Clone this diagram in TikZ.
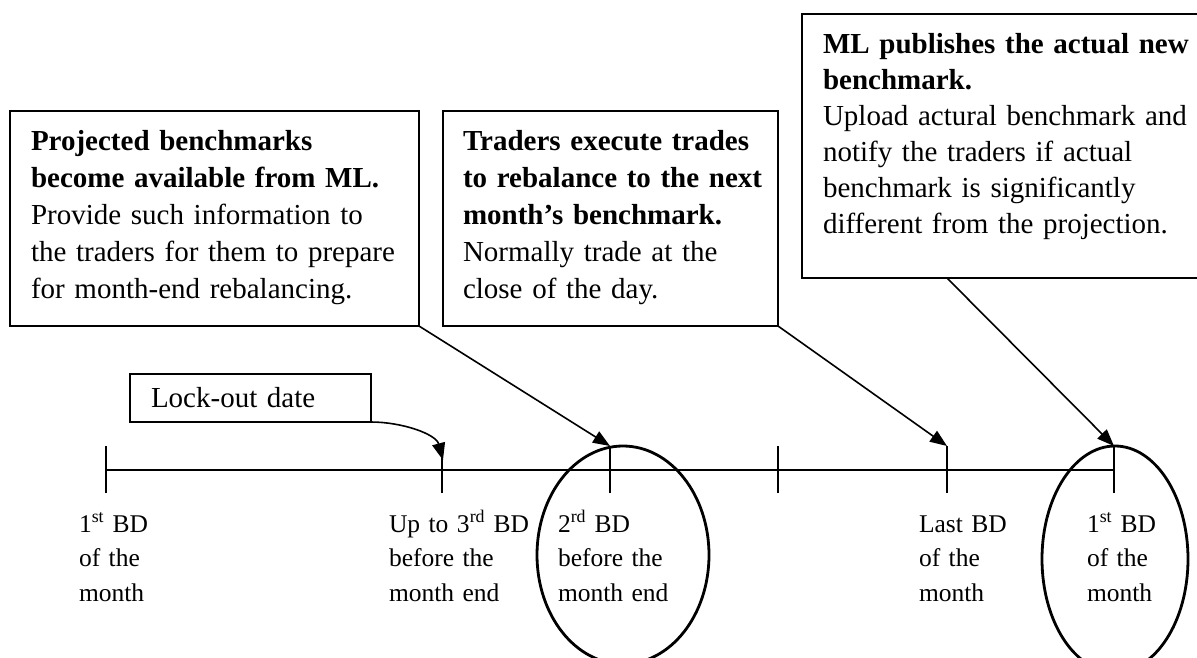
\documentclass[tikz,border=0pt]{standalone}
\usepackage{fontspec}
\setmainfont{Liberation Serif}
\usetikzlibrary{arrows.meta,calc}
\begin{document}
\begin{tikzpicture}[x=1pt,y=-1pt,
  every node/.style={inner sep=0pt,outer sep=0pt},
  infobox/.style={draw,line width=1.6pt,anchor=north west,align=left,inner ysep=0pt},
  boxfont/.style={font=\fontsize{29}{37}\selectfont},
  lbl/.style={anchor=north west,align=left,text width=220pt,font=\fontsize{25.5}{34.5}\selectfont},
  conn/.style={line width=1.6pt,-{Triangle[length=17pt,width=13pt]}},
  tickline/.style={line width=1.8pt},
  axisline/.style={line width=1.5pt},
  oval/.style={line width=2.8pt}
]
\useasboundingbox (0,0) rectangle (1197,657);
\clip (0,0) rectangle (1197,657);
\fill[white] (0,0) rectangle (1197,657);

% information boxes
\node[infobox,boxfont,inner xsep=21pt,text width=367pt] (box1) at (10,111)
 {\rule{0pt}{39pt}\textbf{Projected benchmarks}\\
  \textbf{become available from ML.}\\
  Provide such information to\\
  the traders for them to prepare\\
  for month-end rebalancing.\rule[-28pt]{0pt}{0pt}};
\node[infobox,boxfont,inner xsep=20pt,text width=295pt] (box2) at (443,111)
 {\rule{0pt}{39pt}\textbf{Traders execute trades}\\
  \mbox{\textbf{to rebalance to the next}}\\
  \textbf{month’s benchmark.}\\
  Normally trade at the\\
  close of the day.\rule[-28pt]{0pt}{0pt}};
\node[infobox,inner xsep=21pt,text width=420pt,font=\fontsize{29}{36}\selectfont] (box3) at (802,14)
 {\rule{0pt}{39pt}\textbf{ML publishes the actual new}\\
  \textbf{benchmark.}\\
  Upload actural benchmark and\\
  notify the traders if actual\\
  benchmark is significantly\\
  different from the projection.\rule[-45pt]{0pt}{0pt}};

\node[draw,line width=1.6pt,anchor=north west,align=left,inner xsep=21pt,text width=199pt,
      minimum height=48pt,font=\fontsize{29}{35}\selectfont] (lock) at (130,374) {Lock-out date};

% time line
\foreach \n/\x in {1/106,2/442,3/610,4/778,5/947,6/1114}{
  \coordinate (tick\n) at (\x,470);
  \coordinate (top\n) at (\x,446);
  \coordinate (bot\n) at (\x,493);
}
\draw[axisline] (tick1) -- (tick6);
\foreach \n in {1,...,6}{\draw[tickline] (top\n) -- (bot\n);}

% ovals
\draw[oval] (623,555) ellipse [x radius=86,y radius=109];
\draw[oval] (1115,559) ellipse [x radius=73,y radius=113];

% connectors
\coordinate (lockend) at (443,460);
\draw[conn] (lock.south east) .. controls (402,422) and (436,434) .. (lockend);
\draw[conn] (box1.south east) -- (top3);
\draw[conn] (box2.south east) -- (top5);
\draw[conn] ($(box3.south west)+(145,0)$) -- (top6);

% labels
\node[lbl] (l1) at (79,508) {\rule{0pt}{24pt}1\textsuperscript{st} BD\\of the\\month};
\node[lbl] (l2) at (389,508) {\rule{0pt}{24pt}Up to 3\textsuperscript{rd} BD\\before the\\month end};
\node[lbl] (l3) at (558,508) {\rule{0pt}{24pt}2\textsuperscript{rd} BD\\before the\\month end};
\node[lbl] (l4) at (919,508) {\rule{0pt}{24pt}Last BD\\of the\\month};
\node[lbl] (l5) at (1087,508) {\rule{0pt}{24pt}1\textsuperscript{st} BD\\of the\\month};
\end{tikzpicture}
\end{document}
